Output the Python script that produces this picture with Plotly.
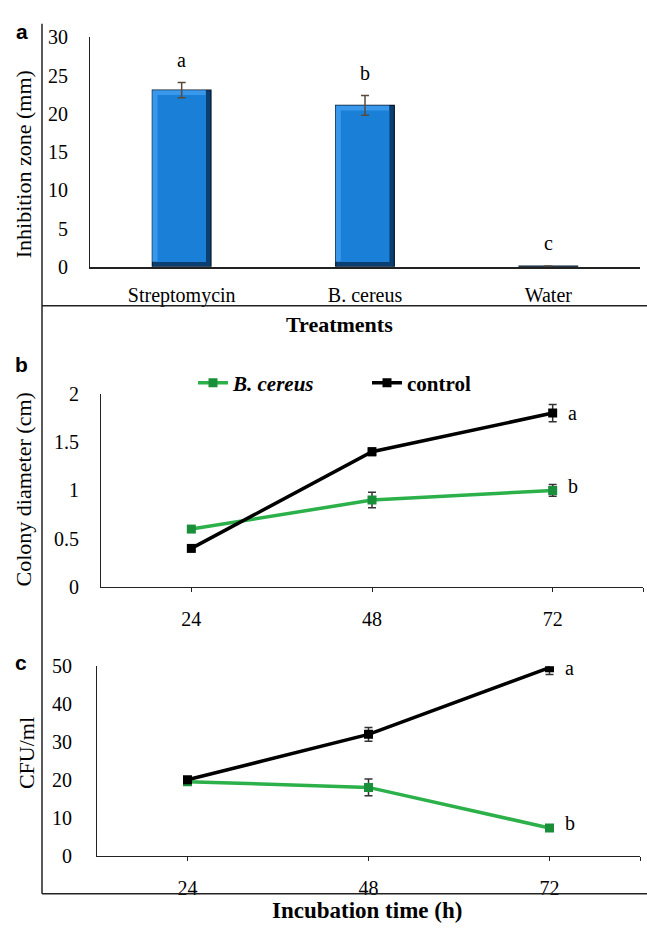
import plotly.graph_objects as go

# ---------------- data ----------------
treatments = ["Streptomycin", "B. cereus", "Water"]
inhibition = [23.1, 21.1, 0.1]
inhibition_err = [1.0, 1.3, 0.0]
inhibition_letters = ["a", "b", "c"]

hours = [24, 48, 72]
diam_bc = [0.6, 0.9, 1.0]
diam_bc_err = [0.02, 0.08, 0.06]
diam_ctrl = [0.4, 1.4, 1.8]
diam_ctrl_err = [0.02, 0.04, 0.09]

cfu_bc = [19.5, 18.0, 7.3]
cfu_bc_err = [0.5, 2.2, 0.6]
cfu_ctrl = [20.0, 32.0, 49.6]
cfu_ctrl_err = [0.6, 1.8, 1.8]

SERIF = "Liberation Serif"
GREEN = "#2bb04a"
GREEN_M = "#1a8f3a"

fig = go.Figure()

# ---------------- panel a (bevelled bars built from the same values) ----------------
BW = 0.32      # bar width (category units)
BV = 0.028     # bevel thickness (category units)
BVY = 0.65     # bevel thickness (value units)
fig.add_trace(go.Bar(x=treatments, y=inhibition, width=BW,
                     marker=dict(color="#0b3f72", line=dict(color="#06182b", width=1.2)),
                     xaxis="x", yaxis="y", showlegend=False, hoverinfo="skip"))
big = [v > 2 * BVY for v in inhibition]
fig.add_trace(go.Bar(x=treatments,
                     y=[v - BVY if b else 0 for v, b in zip(inhibition, big)],
                     base=[BVY if b else 0 for b in big],
                     width=BW - BV, offset=-BW / 2,
                     marker=dict(color="#3a98ec", line=dict(width=0)),
                     xaxis="x", yaxis="y", showlegend=False, hoverinfo="skip"))
fig.add_trace(go.Bar(x=treatments,
                     y=[v - 2 * BVY if b else 0 for v, b in zip(inhibition, big)],
                     base=[BVY if b else 0 for b in big],
                     width=BW - 2 * BV, offset=-BW / 2 + BV,
                     marker=dict(color="#1a7fd6", line=dict(width=0)),
                     xaxis="x", yaxis="y", showlegend=False, hoverinfo="skip"))
# transparent bar carrying the error bars on top
fig.add_trace(go.Bar(x=treatments, y=inhibition, width=BW,
                     marker=dict(color="rgba(0,0,0,0)", line=dict(width=0)),
                     error_y=dict(type="data", array=inhibition_err, color="#5a4a3a",
                                  thickness=1.5, width=4),
                     xaxis="x", yaxis="y", showlegend=False))
for t, v, e, l in zip(treatments, inhibition, inhibition_err, inhibition_letters):
    fig.add_annotation(x=t, y=v + e + 3, text=l, showarrow=False, xref="x", yref="y",
                       font=dict(family=SERIF, size=20, color="black"))

# ---------------- panel b ----------------
fig.add_trace(go.Scatter(x=hours, y=diam_bc, mode="lines+markers",
                         name="<b><i>B. cereus</i></b>", legend="legend",
                         line=dict(color=GREEN, width=3.5),
                         marker=dict(symbol="square", size=9, color=GREEN_M),
                         error_y=dict(type="data", array=diam_bc_err, color="#333333",
                                      thickness=1.5, width=4),
                         xaxis="x2", yaxis="y2"))
fig.add_trace(go.Scatter(x=hours, y=diam_ctrl, mode="lines+markers",
                         name="<b>control</b>", legend="legend2",
                         line=dict(color="black", width=3.5),
                         marker=dict(symbol="square", size=9, color="black"),
                         error_y=dict(type="data", array=diam_ctrl_err, color="#333333",
                                      thickness=1.5, width=4),
                         xaxis="x2", yaxis="y2"))
fig.add_annotation(x=hours[-1], y=diam_ctrl[-1], text="a", showarrow=False, xref="x2", yref="y2",
                   xshift=20, font=dict(family=SERIF, size=20, color="black"))
fig.add_annotation(x=hours[-1], y=diam_bc[-1], text="b", showarrow=False, xref="x2", yref="y2",
                   xshift=20, yshift=4, font=dict(family=SERIF, size=20, color="black"))

# ---------------- panel c ----------------
fig.add_trace(go.Scatter(x=hours, y=cfu_bc, mode="lines+markers",
                         line=dict(color=GREEN, width=3.5),
                         marker=dict(symbol="square", size=9, color=GREEN_M),
                         error_y=dict(type="data", array=cfu_bc_err, color="#333333",
                                      thickness=1.5, width=4),
                         xaxis="x3", yaxis="y3", showlegend=False))
fig.add_trace(go.Scatter(x=hours, y=cfu_ctrl, mode="lines+markers",
                         line=dict(color="black", width=3.5),
                         marker=dict(symbol="square", size=9, color="black"),
                         error_y=dict(type="data", array=cfu_ctrl_err, color="#333333",
                                      thickness=1.5, width=4),
                         xaxis="x3", yaxis="y3", showlegend=False))
fig.add_annotation(x=hours[-1], y=cfu_ctrl[-1], text="a", showarrow=False, xref="x3", yref="y3",
                   xshift=20, font=dict(family=SERIF, size=20, color="black"))
fig.add_annotation(x=hours[-1], y=cfu_bc[-1], text="b", showarrow=False, xref="x3", yref="y3",
                   xshift=20, yshift=5, font=dict(family=SERIF, size=20, color="black"))

W, H = 647, 932
def px(x):
    return x / W
def py(y):
    return 1 - y / H

tickfont = dict(family=SERIF, size=20, color="black")
xr = [12, 84]
xticks = [24, 48, 72, 84]
xtext = ["24", "48", "72", ""]

layout_axes = dict(
    xaxis=dict(domain=[px(90), px(640)], anchor="y", showline=True, linecolor="#222",
               linewidth=1.5, ticks="", tickfont=tickfont, ticklabelstandoff=9,
               showgrid=False, range=[-0.5, 2.5]),
    yaxis=dict(domain=[py(262), py(27)], anchor="x", range=[0, 30], dtick=5,
               showline=True, linecolor="#222", linewidth=1.2, ticks="", tickfont=tickfont,
               ticklabelstandoff=17, showgrid=False, zeroline=False),
    xaxis2=dict(domain=[px(101), px(643)], anchor="y2", range=xr, tickvals=xticks,
                ticktext=xtext, showline=True, linecolor="#222", linewidth=1.2,
                ticks="outside", ticklen=4, tickcolor="#222", tickfont=tickfont,
                ticklabelstandoff=10, showgrid=False, zeroline=False),
    xaxis4=dict(domain=[px(101), px(643)], anchor="y2", overlaying="x2", range=xr,
                tickvals=xticks, showticklabels=False, ticks="inside", ticklen=4,
                tickcolor="#222", showline=False, showgrid=False, zeroline=False),
    yaxis2=dict(domain=[py(590), py(392)], anchor="x2", range=[0, 2], dtick=0.5,
                showline=True, linecolor="#222", linewidth=1.2, ticks="", tickfont=tickfont,
                ticklabelstandoff=17, showgrid=False, zeroline=False),
    xaxis3=dict(domain=[px(97), px(640)], anchor="y3", range=xr, tickvals=xticks,
                ticktext=xtext, showline=True, linecolor="#222", linewidth=1.2,
                ticks="outside", ticklen=4, tickcolor="#222", tickfont=tickfont,
                ticklabelstandoff=10, showgrid=False, zeroline=False),
    xaxis5=dict(domain=[px(97), px(640)], anchor="y3", overlaying="x3", range=xr,
                tickvals=xticks, showticklabels=False, ticks="inside", ticklen=4,
                tickcolor="#222", showline=False, showgrid=False, zeroline=False),
    yaxis3=dict(domain=[py(865), py(671)], anchor="x3", range=[0, 50], dtick=10,
                showline=True, linecolor="#222", linewidth=1.2, ticks="", tickfont=tickfont,
                ticklabelstandoff=20, showgrid=False, zeroline=False),
)

legfont = dict(family=SERIF, size=21, color="black")
fig.update_layout(
    width=W, height=H, margin=dict(l=0, r=0, t=0, b=0),
    paper_bgcolor="white", plot_bgcolor="white",
    barmode="overlay",
    font=dict(family=SERIF, color="black"),
    legend=dict(orientation="h", x=px(193), y=py(381), xanchor="left", yanchor="middle",
                font=legfont, bgcolor="rgba(0,0,0,0)", itemwidth=30),
    legend2=dict(orientation="h", x=px(367), y=py(381), xanchor="left", yanchor="middle",
                 font=legfont, bgcolor="rgba(0,0,0,0)", itemwidth=30),
    **layout_axes,
)

# frame lines
fig.add_shape(type="line", xref="paper", yref="paper", x0=px(42), x1=px(42),
              y0=py(13), y1=py(904), line=dict(color="#222", width=1.5))
fig.add_shape(type="line", xref="paper", yref="paper", x0=px(42), x1=1,
              y0=py(302), y1=py(302), line=dict(color="#222", width=1.5))
fig.add_shape(type="line", xref="paper", yref="paper", x0=px(42), x1=1,
              y0=py(904), y1=py(904), line=dict(color="#222", width=1.5))

# titles
def ann(x, y, text, size, family=SERIF, angle=0):
    fig.add_annotation(x=px(x), y=py(y), xref="paper", yref="paper", text=text,
                       showarrow=False, textangle=angle, xanchor="center", yanchor="middle",
                       font=dict(family=family, size=size, color="black"))

ann(339, 321, "<b>Treatments</b>", 22)
ann(367, 921, "<b>Incubation time (h)</b>", 23)
ann(23, 157, "Inhibition zone (mm)", 22, angle=-90)
ann(23, 490, "Colony diameter (cm)", 22, angle=-90)
ann(26, 760, "CFU/ml", 22, angle=-90)
ann(22, 21, "<b>a</b>", 21, family="Liberation Sans")
ann(21, 362, "<b>b</b>", 21, family="Liberation Sans")
ann(21, 667, "<b>c</b>", 21, family="Liberation Sans")

fig.write_html("out.html", config={"displayModeBar": False},
               post_script="document.body.style.margin='0';document.body.style.overflow='hidden';")
